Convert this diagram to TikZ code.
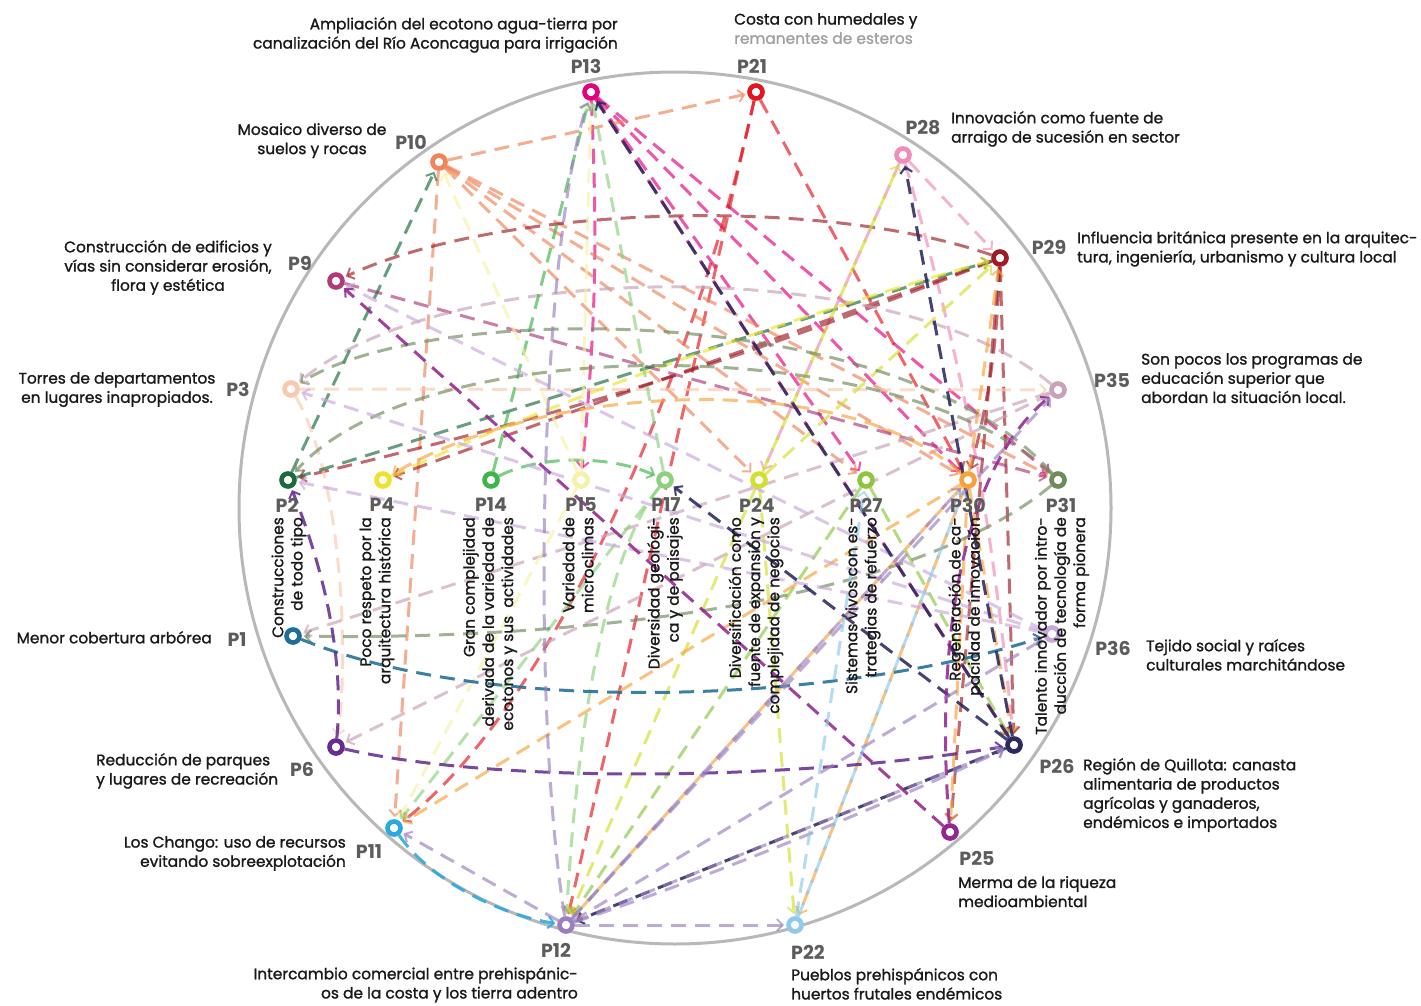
\documentclass[tikz,border=0pt]{standalone}
\usepackage{fontspec}
\setmainfont{Poppins}[UprightFeatures={FakeBold=1.3}, BoldFont={Poppins Bold}]
\usetikzlibrary{arrows.meta}
\pgfdeclarelayer{back}
\pgfdeclarelayer{edges}
\pgfsetlayers{back,edges,main}

\definecolor{cP13}{HTML}{E5007D}
\definecolor{cP21}{HTML}{E3161E}
\definecolor{cP28}{HTML}{F08CB8}
\definecolor{cP10}{HTML}{F08359}
\definecolor{cP29}{HTML}{A01B24}
\definecolor{cP9}{HTML}{B03A78}
\definecolor{cP3}{HTML}{F9C8AE}
\definecolor{cP35}{HTML}{C9A1B8}
\definecolor{cP2}{HTML}{1C6B3C}
\definecolor{cP4}{HTML}{EDE32F}
\definecolor{cP14}{HTML}{3DB54A}
\definecolor{cP15}{HTML}{F5F1A6}
\definecolor{cP17}{HTML}{8DD17E}
\definecolor{cP24}{HTML}{D3DF2E}
\definecolor{cP27}{HTML}{8CC63F}
\definecolor{cP30}{HTML}{F7A23A}
\definecolor{cP31}{HTML}{6F8A5B}
\definecolor{cP1}{HTML}{1F6E97}
\definecolor{cP36}{HTML}{C8A8DC}
\definecolor{cP6}{HTML}{662D91}
\definecolor{cP26}{HTML}{2B2960}
\definecolor{cP11}{HTML}{2AA9E0}
\definecolor{cP25}{HTML}{93278F}
\definecolor{cP12}{HTML}{9A7FBF}
\definecolor{cP22}{HTML}{8FC9EB}
\definecolor{ringgray}{HTML}{B8B8B8}
\definecolor{taggray}{HTML}{5C5C5C}
\definecolor{softgray}{HTML}{A0A0A0}

\tikzset{
  dot/.style={circle, draw=#1, line width=4.6pt, fill=white, minimum size=13pt, inner sep=0pt},
  tag/.style={font=\fontsize{19}{19}\selectfont\bfseries, text=taggray, inner sep=0pt},
  lbl/.style={font=\fontsize{15.4}{19.2}\selectfont, text=black!90, inner sep=0pt},
  vlbl/.style={lbl, rotate=90, anchor=east, align=right},
  link/.style={draw=#1, draw opacity=0.66, line width=3pt,
    dash pattern=on 15pt off 9pt,
    -{Straight Barb[length=6pt,width=12pt,line width=2pt]},
    shorten >=2pt},
  strong/.style={draw opacity=0.88}
}

\begin{document}
\begin{tikzpicture}[x=1pt,y=-1pt]
\useasboundingbox (0,0) rectangle (1421,1006);

% outer ring
\begin{pgfonlayer}{back}
  \draw[ringgray, line width=3pt] (675,508) circle[radius=436];
\end{pgfonlayer}

% problem nodes
\node[dot=cP13] (P13) at (591,92) {};
\node[dot=cP21] (P21) at (756,92) {};
\node[dot=cP28] (P28) at (903,155) {};
\node[dot=cP10] (P10) at (439,162) {};
\node[dot=cP29] (P29) at (1000,258) {};
\node[dot=cP9]  (P9)  at (336,281) {};
\node[dot=cP3]  (P3)  at (291,389) {};
\node[dot=cP35] (P35) at (1058,390) {};
\node[dot=cP2]  (P2)  at (288,480) {};
\node[dot=cP4]  (P4)  at (383,480) {};
\node[dot=cP14] (P14) at (491,480) {};
\node[dot=cP15] (P15) at (581,480) {};
\node[dot=cP17] (P17) at (665,480) {};
\node[dot=cP24] (P24) at (759,480) {};
\node[dot=cP27] (P27) at (866,480) {};
\node[dot=cP30] (P30) at (968,480) {};
\node[dot=cP31] (P31) at (1058,480) {};
\node[dot=cP1]  (P1)  at (293,636) {};
\node[dot=cP36] (P36) at (1052,634) {};
\node[dot=cP6]  (P6)  at (336,747) {};
\node[dot=cP26] (P26) at (1014,745) {};
\node[dot=cP11] (P11) at (394,828) {};
\node[dot=cP25] (P25) at (950,832) {};
\node[dot=cP12] (P12) at (566,925) {};
\node[dot=cP22] (P22) at (795,925) {};

% influence links
\begin{pgfonlayer}{edges}
  % P13
  \draw[link=cP13] (P13) to[bend left=4] (P15);
  \draw[link=cP13] (P13) -- (P27);
  \draw[link=cP13] (P13) -- (P30);
  \draw[link=cP13] (P13) -- (P31);
  \draw[link=cP13] (P13) -- (P26);
  % P21
  \draw[link=cP21] (P21) -- (P12);
  \draw[link=cP21] (P21) -- (P30);
  \draw[link=cP21] (P21) .. controls (700,350) and (560,700) .. (P11);
  % P28
  \draw[link=cP28] (P28) -- (P29);
  \draw[link=cP28] (P28) to[bend left=5] (P26);
  \draw[link=cP28] (P28) -- (P24);
  % P10
  \draw[link=cP10] (P10) -- (P21);
  \draw[link=cP10] (P10) -- (P11);
  \draw[link=cP10] (P10) -- (P24);
  \draw[link=cP10] (P10) -- (P27);
  \draw[link=cP10] (P10) -- (P30);
  \draw[link=cP10] (P10) -- (P31);
  % P29
  \draw[link=cP29] (P29) .. controls (820,195) and (500,205) .. (P9);
  \draw[link=cP29] (P29) to[bend left=4] (P2);
  \draw[link=cP29] (P29) -- (P4);
  \draw[link=cP29] (P29) to[bend left=6] (P30);
  \draw[link=cP29] (P29) -- (P26);
  \draw[link=cP29] (P29) -- (P25);
  % P9
  \draw[link=cP9] (P9) -- (P31);
  % P3
  \draw[link=cP3] (P3) -- (P35);
  \draw[link=cP3] (P3) .. controls (340,470) and (350,650) .. (P6);
  % P35
  \draw[link=cP35] (P35) .. controls (900,255) and (450,255) .. (P3);
  \draw[link=cP35] (P35) -- (P6);
  \draw[link=cP35] (P35) -- (P1);
  % P2
  \draw[link=cP2] (P2) -- (P10);
  \draw[link=cP2] (P2) -- (P29);
  % P4
  \draw[link=cP4] (P4) .. controls (600,380) and (850,300) .. (P29);
  % P14
  \draw[link=cP14] (P14) -- (P13);
  \draw[link=cP14] (P14) .. controls (540,455) and (610,455) .. (P17);
  % P15
  \draw[link=cP15] (P15) -- (P10);
  \draw[link=cP15] (P15) -- (P13);
  \draw[link=cP15] (P15) -- (P11);
  % P17
  \draw[link=cP17] (P17) -- (P13);
  \draw[link=cP17] (P17) .. controls (600,560) and (575,760) .. (P12);
  \draw[link=cP17] (P17) -- (P11);
  % P24
  \draw[link=cP24] (P24) -- (P28);
  \draw[link=cP24] (P24) -- (P29);
  \draw[link=cP24] (P24) -- (P22);
  \draw[link=cP24] (P24) -- (P12);
  % P27
  \draw[link=cP27] (P27) -- (P12);
  \draw[link=cP27] (P27) -- (P26);
  % P30
  \draw[link=cP30] (P30) -- (P29);
  \draw[link=cP30] (P30) -- (P22);
  \draw[link=cP30] (P30) -- (P11);
  \draw[link=cP30] (P30) -- (P12);
  \draw[link=cP30] (P30) .. controls (850,370) and (550,380) .. (P4);
  \draw[link=cP30] (P30) -- (P26);
  \draw[link=cP30] (P30) -- (P25);
  % P31
  \draw[link=cP31] (P31) .. controls (900,300) and (430,300) .. (P3);
  \draw[link=cP31] (P31) .. controls (900,330) and (420,330) .. (P2);
  \draw[link=cP31] (P31) .. controls (900,610) and (550,640) .. (P1);
  % P1
  \draw[link=cP1, strong] (P1) .. controls (500,720) and (850,700) .. (P36);
  % P36
  \draw[link=cP36] (P36) -- (P2);
  \draw[link=cP36] (P36) -- (P9);
  \draw[link=cP36] (P36) -- (P3);
  % P6
  \draw[link=cP6, strong] (P6) .. controls (500,785) and (800,780) .. (P26);
  \draw[link=cP6, strong] (P6) .. controls (345,650) and (320,560) .. (P2);
  % P26
  \draw[link=cP26, strong] (P26) -- (P13);
  \draw[link=cP26, strong] (P26) -- (P28);
  \draw[link=cP26, strong] (P26) -- (P12);
  \draw[link=cP26, strong] (P26) -- (P17);
  % P11
  \draw[link=cP11, strong] (P11) .. controls (430,880) and (500,915) .. (P12);
  % P25
  \draw[link=cP25, strong] (P25) -- (P9);
  \draw[link=cP25, strong] (P25) .. controls (935,650) and (960,470) .. (P35);
  % P12
  \draw[link=cP12] (P12) .. controls (530,700) and (540,250) .. (P13);
  \draw[link=cP12] (P12) -- (P22);
  \draw[link=cP12] (P12) -- (P26);
  \draw[link=cP12] (P12) .. controls (700,880) and (850,820) .. (P26);
  \draw[link=cP12] (P12) -- (P35);
  \draw[link=cP12] (P12) -- (P36);
  \draw[link=cP12] (P12) -- (P11);
  \draw[link=cP12] (P12) -- (P30);
  % P22
  \draw[link=cP22] (P22) -- (P27);
  \draw[link=cP22] (P22) -- (P30);
\end{pgfonlayer}

% identifiers
\node[tag] (t13) at (586,66) {P13};
\node[tag] (t21) at (752,66) {P21};
\node[tag] (t28) at (923,128) {P28};
\node[tag] (t10) at (411,142) {P10};
\node[tag] (t9)  at (300,263) {P9};
\node[tag] (t29) at (1049,247) {P29};
\node[tag] (t3)  at (238,389) {P3};
\node[tag] (t35) at (1112,380) {P35};
\node[tag] (t2)  at (287,505) {P2};
\node[tag] (t4)  at (382,505) {P4};
\node[tag] (t14) at (491,505) {P14};
\node[tag] (t15) at (581,505) {P15};
\node[tag] (t17) at (666,505) {P17};
\node[tag] (t24) at (757,505) {P24};
\node[tag] (t27) at (866,505) {P27};
\node[tag] (t30) at (968,505) {P30};
\node[tag] (t31) at (1061,505) {P31};
\node[tag] (t1)  at (237,640) {P1};
\node[tag] (t36) at (1113,648) {P36};
\node[tag] (t6)  at (302,769) {P6};
\node[tag] (t11) at (369,852) {P11};
\node[tag] (t26) at (1057,766) {P26};
\node[tag] (t25) at (977,858) {P25};
\node[tag] (t12) at (556,950) {P12};
\node[tag] (t22) at (808,952) {P22};

% descriptions around the ring
\node[lbl, anchor=north east, align=right] (d13) at (618,17) {Ampliación del ecotono agua-tierra por\\canalización del Río Aconcagua para irrigación};
\node[lbl, anchor=north west, align=left] (d21) at (734,13) {Costa con humedales y\\\textcolor{softgray}{remanentes de esteros}};
\node[lbl, anchor=north west, align=left] (d28) at (951,111) {Innovación como fuente de\\arraigo de sucesión en sector};
\node[lbl, anchor=north, align=center] (d10) at (312,123) {Mosaico diverso de\\suelos y rocas};
\node[lbl, anchor=north, align=center] (d9) at (168,240) {Construcción de edificios y\\vías sin considerar erosión,\\flora y estética};
\node[lbl, anchor=north west, align=left] (d29) at (1077,231) {Influencia británica presente en la arquitec-\\tura, ingeniería, urbanismo y cultura local};
\node[lbl, anchor=north, align=center] (d3) at (117,372) {Torres de departamentos\\en lugares inapropiados.};
\node[lbl, anchor=north west, align=left] (d35) at (1141,353) {Son pocos los programas de\\educación superior que\\abordan la situación local.};
\node[lbl, anchor=north east, align=right] (d1) at (212,631) {Menor cobertura arbórea};
\node[lbl, anchor=north west, align=left] (d36) at (1146,639) {Tejido social y raíces\\culturales marchitándose};
\node[lbl, anchor=north west, align=left] (d6) at (96,753) {Reducción de parques\\y lugares de recreación};
\node[lbl, anchor=north east, align=right] (d11) at (346,836) {Los Chango: uso de recursos\\evitando sobreexplotación};
\node[lbl, anchor=north west, align=left] (d26) at (1083,758) {Región de Quillota: canasta\\alimentaria de productos\\agrícolas y ganaderos,\\endémicos e importados};
\node[lbl, anchor=north west, align=left] (d25) at (958,876) {Merma de la riqueza\\medioambiental};
\node[lbl, anchor=north east, align=right] (d12) at (578,967) {Intercambio comercial entre prehispánic-\\os de la costa y los tierra adentro};
\node[lbl, anchor=north west, align=left] (d22) at (791,968) {Pueblos prehispánicos con\\huertos frutales endémicos};

% descriptions under the central row
\node[vlbl] (d2)  at (289,517) {Construcciones\\de todo tipo};
\node[vlbl] (d4)  at (377,517) {Poco respeto por la\\arquitectura histórica};
\node[vlbl] (d14) at (490,517) {Gran complejidad\\derivada de la variedad de\\ecotonos y sus \ actividades};
\node[vlbl] (d15) at (578,517) {Variedad de\\microclimas};
\node[vlbl] (d17) at (665,517) {Diversidad geológi-\\ca y de paisajes};
\node[vlbl] (d24) at (756,517) {Diversificación como\\fuente de expansión y\\complejidad de negocios};
\node[vlbl] (d27) at (863,517) {Sistemas vivos con es-\\trategias de refuerzo};
\node[vlbl] (d30) at (966,517) {Regeneración de ca-\\pacidad de innovación};
\node[vlbl] (d31) at (1062,517) {Talento innovador por intro-\\ducción de tecnología de\\forma pionera};
\end{tikzpicture}
\end{document}
